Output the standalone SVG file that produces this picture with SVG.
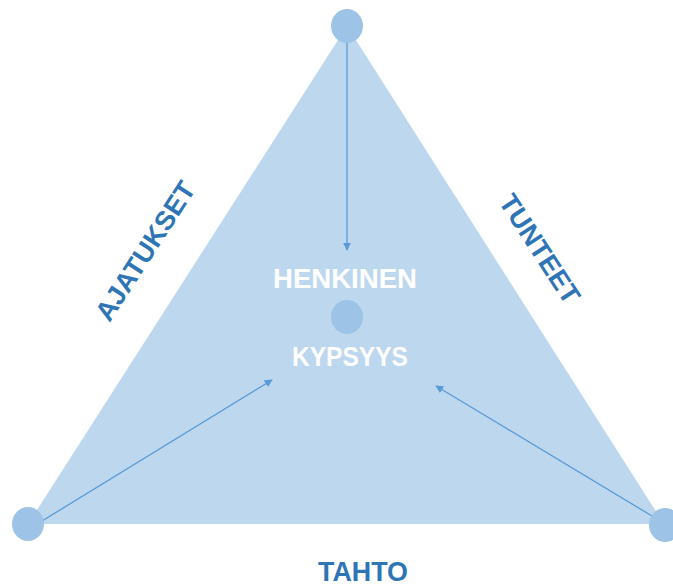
<svg xmlns="http://www.w3.org/2000/svg" width="673" height="587" viewBox="0 0 673 587">
<defs>
<marker id="ah" viewBox="0 0 10 10" refX="9" refY="5" markerWidth="8" markerHeight="8" markerUnits="userSpaceOnUse" orient="auto"><path d="M0,0 L10,5 L0,10 z" fill="#5B9BD5"/></marker>
<style>
.dot{fill:#9DC3E6}
.arr{stroke:#5B9BD5;stroke-width:1.3;fill:none;marker-end:url(#ah)}
.lbl{font-family:"Liberation Sans",Arial,sans-serif;font-weight:bold;font-size:27px;fill:#2E75B6;text-anchor:middle}
.ctr{font-family:"Liberation Sans",Arial,sans-serif;font-weight:bold;font-size:27px;fill:#FFFFFF;text-anchor:middle}
</style>
</defs>
<g id="triangle"><polygon points="347,26 28,524 664,524" fill="#BDD7EE"/></g>
<g id="connectors">
<line class="arr" x1="347" y1="42" x2="347" y2="250"/>
<line class="arr" x1="42" y1="521" x2="272" y2="380"/>
<line class="arr" x1="652" y1="516" x2="436" y2="386"/>
</g>
<g id="top"><ellipse class="dot" cx="347" cy="26" rx="16" ry="17"/></g>
<g id="left"><ellipse class="dot" cx="28" cy="524" rx="16" ry="17"/></g>
<g id="right"><ellipse class="dot" cx="665" cy="525" rx="16" ry="17"/></g>
<g id="center"><ellipse class="dot" cx="347" cy="317" rx="16" ry="17"/>
<text class="ctr" x="345" y="288" textLength="144" lengthAdjust="spacingAndGlyphs">HENKINEN</text>
<text class="ctr" x="350" y="366" textLength="116" lengthAdjust="spacingAndGlyphs">KYPSYYS</text>
</g>
<g id="labels">
<text class="lbl" transform="translate(153,256) rotate(-57)">AJATUKSET</text>
<text class="lbl" transform="translate(532,254) rotate(57)">TUNTEET</text>
<text class="lbl" x="363" y="581" textLength="90" lengthAdjust="spacingAndGlyphs">TAHTO</text>
</g>
</svg>
